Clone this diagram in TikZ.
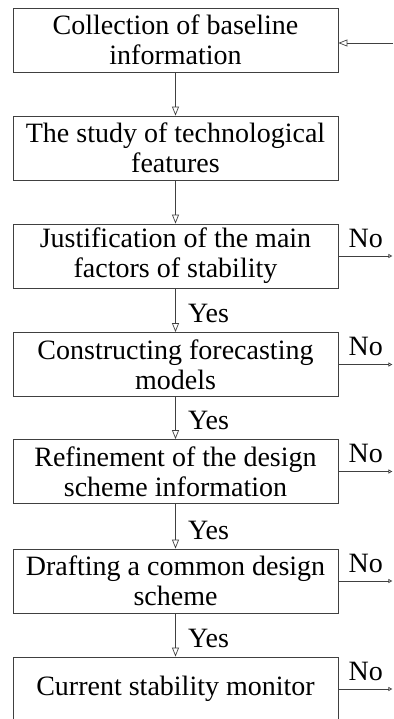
\documentclass[tikz,border=0pt]{standalone}
\usepackage{fontspec}
\setmainfont{Liberation Serif}
\usetikzlibrary{arrows.meta,calc}
\begin{document}
\begin{tikzpicture}[x=1pt,y=-1pt,
 box/.style={draw=black!75, line width=0.8pt, minimum width=325pt, minimum height=64pt, inner sep=0pt, align=center, font=\fontsize{28}{30}\selectfont},
 flow/.style={draw=black!75, line width=0.7pt, -{Triangle[open,length=9pt,width=7pt]}},
 noarr/.style={draw=black!75, line width=0.7pt, -{Triangle[open,length=4pt,width=4pt]}},
 lbl/.style={font=\fontsize{28}{30}\selectfont, inner sep=0pt, anchor=base west}]
\useasboundingbox (0,0) rectangle (393,719);
\clip (0,0) rectangle (393,719);
\node[box] (b1) at (175.5,40) {Collection of baseline\\information};
\node[box] (b2) at (175.5,148) {The study of technological\\features};
\node[box] (b3) at (175.5,256) {Justification of the main\\factors of stability};
\node[box] (b4) at (175.5,364.5) {Constructing forecasting\\models};
\node[box] (b5) at (175.5,471.5) {Refinement of the design\\scheme information};
\node[box] (b6) at (175.5,581) {Drafting a common design\\scheme};
\node[box] (b7) at (175.5,689) {Current stability monitor};
% feedback input
\coordinate (fin) at (393,43);
\draw[flow] (fin) -- (fin -| b1.east);
% vertical flow
\draw[flow] (b1.south) -- (b2.north);
\draw[flow] (b2.south) -- (b3.north);
\draw[flow] (b3.south) -- (b4.north);
\draw[flow] (b4.south) -- (b5.north);
\draw[flow] (b5.south) -- (b6.north);
\draw[flow] (b6.south) -- (b7.north);
% Yes labels
\node[lbl] (y1) at (188,322) {Yes};
\node[lbl] (y2) at (188,429) {Yes};
\node[lbl] (y3) at (188,539) {Yes};
\node[lbl] (y4) at (188,647) {Yes};
% No branches
\foreach \b in {b3,b4,b5,b6,b7}{
  \coordinate (\b no) at ($(\b.east)+(54,0)$);
  \draw[noarr] (\b.east) -- (\b no);
  \node[lbl] (\b nolbl) at ($(\b.east)+(10,-9)$) {No};
}
\end{tikzpicture}
\end{document}
